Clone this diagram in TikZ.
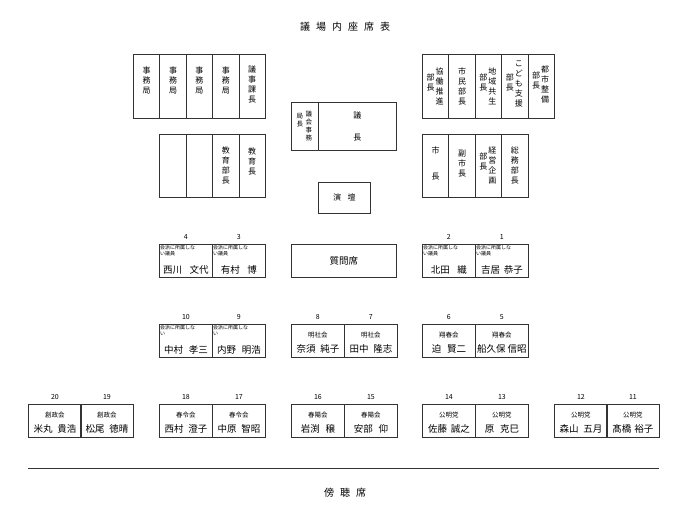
\documentclass[tikz,border=0pt]{standalone}
\usepackage{fontspec}
\setmainfont{Noto Sans CJK JP}
\usetikzlibrary{positioning,calc}

\tikzstyle{desk} = [rectangle, draw=black!80, line width=0.8pt, anchor=north west, inner sep=0pt, align=center, font=\fontsize{8}{10}\selectfont]
\tikzstyle{seat} = [desk, minimum width=53pt, minimum height=33pt]
\tikzstyle{num} = [font=\fontsize{7}{8}\selectfont, inner sep=0pt]
\tikzstyle{party} = [font=\fontsize{6.5}{8}\selectfont, inner sep=0pt]
\tikzstyle{member} = [font=\fontsize{9.5}{11}\selectfont, inner sep=0pt]
\tikzstyle{tiny} = [font=\fontsize{5}{6}\selectfont, inner sep=0pt, align=left, anchor=north west]

% \seatpair{name}{x}{y}{number}{party}{member}
\newcommand{\seatpair}[6]{
  \node (#1) [seat] at (#2,#3) {};
  \node (#1n) [num] at ($(#1.north)+(0,-7)$) {#4};
  \node (#1p) [party] at ($(#1.center)+(0,-6)$) {#5};
  \node (#1m) [member] at ($(#1.center)+(0,8)$) {#6};
}
% \indseat{name}{x}{y}{number}{small text}{member}
\newcommand{\indseat}[6]{
  \node (#1) [seat] at (#2,#3) {};
  \node (#1n) [num] at ($(#1.north)+(0,-7)$) {#4};
  \node (#1t) [tiny] at ($(#1.north west)+(1,1.5)$) {#5};
  \node (#1m) [member] at ($(#1.center)+(0,9)$) {#6};
}

\begin{document}
\begin{tikzpicture}[x=1pt, y=-1pt]
  \useasboundingbox (0,0) rectangle (690,508);
  \node (title) [font=\fontsize{10}{12}\selectfont] at (345,27) {議\hspace{0.6em}場\hspace{0.6em}内\hspace{0.6em}座\hspace{0.6em}席\hspace{0.6em}表};

  % staff desks, left
  \node (jim1) [desk, minimum width=26.4pt, minimum height=64pt] at (133,54) {};
  \node (jim2) [desk, minimum width=26.4pt, minimum height=64pt] at (159.4,54) {};
  \node (jim3) [desk, minimum width=26.4pt, minimum height=64pt] at (185.8,54) {};
  \node (jim4) [desk, minimum width=26.4pt, minimum height=64pt] at (212.2,54) {};
  \node (giji) [desk, minimum width=26.4pt, minimum height=64pt] at (238.6,54) {};
  \node at ($(jim1.center)+(0,-6)$) [align=center, font=\fontsize{8}{10}\selectfont] {事\\務\\局};
  \node at ($(jim2.center)+(0,-6)$) [align=center, font=\fontsize{8}{10}\selectfont] {事\\務\\局};
  \node at ($(jim3.center)+(0,-6)$) [align=center, font=\fontsize{8}{10}\selectfont] {事\\務\\局};
  \node at ($(jim4.center)+(0,-6)$) [align=center, font=\fontsize{8}{10}\selectfont] {事\\務\\局};
  \node at ($(giji.center)+(0,-2)$) [align=center, font=\fontsize{8}{10}\selectfont] {議\\事\\課\\長};

  \node (blk1) [desk, minimum width=26.4pt, minimum height=63pt] at (159.4,134) {};
  \node (blk2) [desk, minimum width=26.4pt, minimum height=63pt] at (185.8,134) {};
  \node (kyob) [desk, minimum width=26.4pt, minimum height=63pt] at (212.2,134) {};
  \node (kyoc) [desk, minimum width=26.4pt, minimum height=63pt] at (238.6,134) {};
  \node at (kyob.center) [align=center, font=\fontsize{8}{10}\selectfont] {教\\育\\部\\長};
  \node at ($(kyoc.center)+(0,-4)$) [align=center, font=\fontsize{8}{10}\selectfont] {教\\育\\長};

  % chair
  \node (jkyoku) [desk, minimum width=27pt, minimum height=48pt] at (291,102) {};
  \node (gicho) [desk, minimum width=78pt, minimum height=48pt] at (318,102) {};
  \node at ($(jkyoku.center)+(4,0)$) [align=center, font=\fontsize{6.5}{8}\selectfont] {議\\会\\事\\務};
  \node at ($(jkyoku.center)+(-5,-6)$) [align=center, font=\fontsize{6.5}{8}\selectfont] {局\\長};
  \node at (gicho.center) [align=center, font=\fontsize{8}{22}\selectfont] {議\\長};
  \node (endan) [desk, minimum width=52pt, minimum height=31pt] at (318,182) {演\hspace{0.8em}壇};

  % executives, right
  \node (kyodo) [desk, minimum width=26.4pt, minimum height=64pt] at (422,54) {};
  \node (shimin) [desk, minimum width=26.4pt, minimum height=64pt] at (448.4,54) {};
  \node (chiiki) [desk, minimum width=26.4pt, minimum height=64pt] at (474.8,54) {};
  \node (kodomo) [desk, minimum width=26.4pt, minimum height=64pt] at (501.2,54) {};
  \node (toshi) [desk, minimum width=26.4pt, minimum height=64pt] at (527.6,54) {};
  \node at ($(kyodo.center)+(4,0)$) [align=center, font=\fontsize{8}{10}\selectfont] {協\\働\\推\\進};
  \node at ($(kyodo.center)+(-5,-4)$) [align=center, font=\fontsize{8}{10}\selectfont] {部\\長};
  \node at (shimin.center) [align=center, font=\fontsize{8}{10}\selectfont] {市\\民\\部\\長};
  \node at ($(chiiki.center)+(4,0)$) [align=center, font=\fontsize{8}{10}\selectfont] {地\\域\\共\\生};
  \node at ($(chiiki.center)+(-5,-4)$) [align=center, font=\fontsize{8}{10}\selectfont] {部\\長};
  \node at ($(kodomo.center)+(4,-2)$) [align=center, font=\fontsize{8}{10}\selectfont] {こ\\ど\\も\\支\\援};
  \node at ($(kodomo.center)+(-5,-4)$) [align=center, font=\fontsize{8}{10}\selectfont] {部\\長};
  \node at ($(toshi.center)+(4,-2)$) [align=center, font=\fontsize{8}{10}\selectfont] {都\\市\\整\\備};
  \node at ($(toshi.center)+(-5,-6)$) [align=center, font=\fontsize{8}{10}\selectfont] {部\\長};

  \node (shicho) [desk, minimum width=26.4pt, minimum height=63pt] at (422,134) {};
  \node (fuku) [desk, minimum width=26.4pt, minimum height=63pt] at (448.4,134) {};
  \node (keiei) [desk, minimum width=26.4pt, minimum height=63pt] at (474.8,134) {};
  \node (somu) [desk, minimum width=26.4pt, minimum height=63pt] at (501.2,134) {};
  \node at ($(shicho.center)+(0,-2)$) [align=center, font=\fontsize{8}{26}\selectfont] {市\\長};
  \node at ($(fuku.center)+(0,-2)$) [align=center, font=\fontsize{8}{10}\selectfont] {副\\市\\長};
  \node at ($(keiei.center)+(4,0)$) [align=center, font=\fontsize{8}{10}\selectfont] {経\\営\\企\\画};
  \node at ($(keiei.center)+(-5,-4)$) [align=center, font=\fontsize{8}{10}\selectfont] {部\\長};
  \node at (somu.center) [align=center, font=\fontsize{8}{10}\selectfont] {総\\務\\部\\長};

  % members
  \indseat{s4}{159}{244}{4}{会派に所属しな\\い議員}{西川\hspace{0.8em}文代}
  \indseat{s3}{212}{244}{3}{会派に所属しな\\い議員}{有村\hspace{0.8em}博}
  \node (shitsu) [desk, minimum width=105pt, minimum height=33pt, font=\fontsize{9.5}{11}\selectfont] at (291,244) {質問席};
  \indseat{s2}{422}{244}{2}{会派に所属しな\\い議員}{北田\hspace{0.8em}織}
  \indseat{s1}{475}{244}{1}{会派に所属しな\\い議員}{吉居\hspace{0.4em}恭子}

  \indseat{s10}{159}{324}{10}{会派に所属しな\\い}{中村\hspace{0.6em}孝三}
  \indseat{s9}{212}{324}{9}{会派に所属しな\\い}{内野\hspace{0.6em}明浩}
  \seatpair{s8}{291}{324}{8}{明社会}{奈須\hspace{0.5em}純子}
  \seatpair{s7}{344}{324}{7}{明社会}{田中\hspace{0.5em}隆志}
  \seatpair{s6}{422}{324}{6}{翔春会}{迫\hspace{0.6em}賢二}
  \seatpair{s5}{475}{324}{5}{翔春会}{船久保\hspace{0.2em}信昭}

  \seatpair{s20}{28}{404}{20}{創政会}{米丸\hspace{0.5em}貴浩}
  \seatpair{s19}{80}{404}{19}{創政会}{松尾\hspace{0.5em}徳晴}
  \seatpair{s18}{159}{404}{18}{春令会}{西村\hspace{0.5em}澄子}
  \seatpair{s17}{212}{404}{17}{春令会}{中原\hspace{0.5em}智昭}
  \seatpair{s16}{291}{404}{16}{春陽会}{岩渕\hspace{0.6em}穣}
  \seatpair{s15}{344}{404}{15}{春陽会}{安部\hspace{0.6em}仰}
  \seatpair{s14}{422}{404}{14}{公明党}{佐藤\hspace{0.4em}誠之}
  \seatpair{s13}{475}{404}{13}{公明党}{原\hspace{0.6em}克巳}
  \seatpair{s12}{554}{404}{12}{公明党}{森山\hspace{0.5em}五月}
  \seatpair{s11}{606}{404}{11}{公明党}{髙橋\hspace{0.3em}裕子}

  % gallery
  \coordinate (rail1) at (28,468);
  \coordinate (rail2) at (659,468);
  \draw [black!80, line width=0.8pt] (rail1) -- (rail2);
  \node (bocho) [font=\fontsize{10}{12}\selectfont] at (345,493) {傍\hspace{0.6em}聴\hspace{0.6em}席};
\end{tikzpicture}
\end{document}
